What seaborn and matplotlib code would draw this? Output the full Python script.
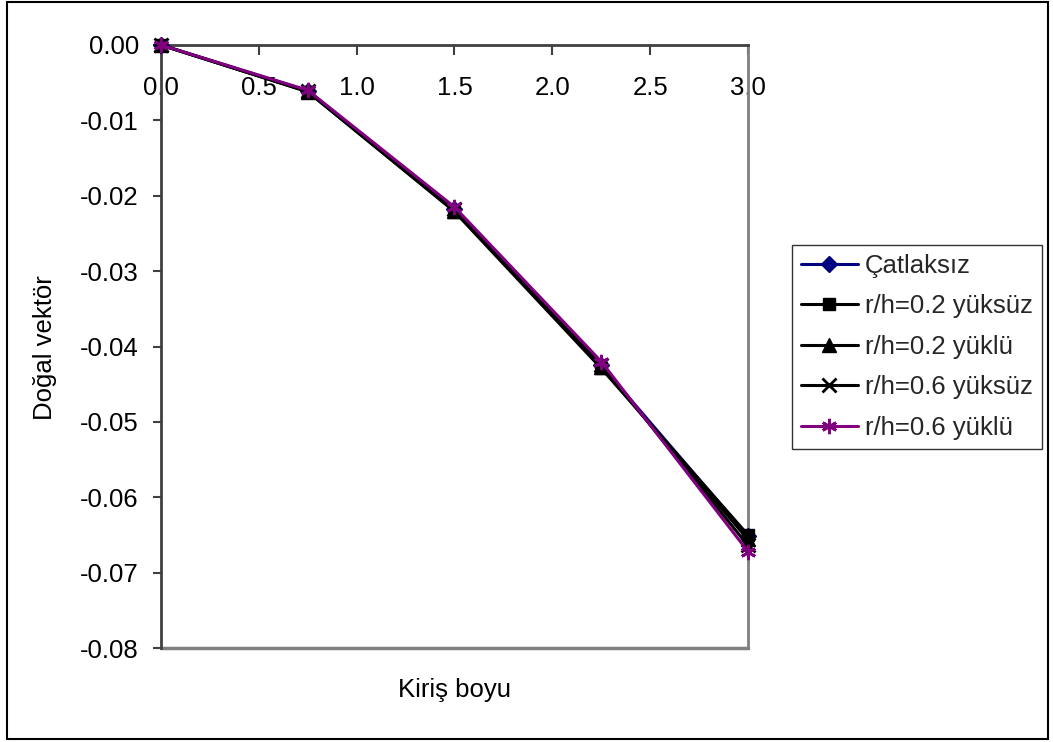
import matplotlib
matplotlib.use("Agg")
import matplotlib.pyplot as plt
from matplotlib.patches import Rectangle
from matplotlib.ticker import FuncFormatter, FixedLocator
import seaborn as sns
import pandas as pd

# ---- data ----
kiris_boyu = [0.0, 0.75, 1.5, 2.25, 3.0]
catlaksiz = [0.0, -0.0061, -0.0218, -0.0425, -0.0652]
rh02_yuksuz = [0.0, -0.0062, -0.0221, -0.0429, -0.0650]
rh02_yuklu = [0.0, -0.0062, -0.0220, -0.0427, -0.0656]
rh06_yuksuz = [0.0, -0.0061, -0.0218, -0.0424, -0.0664]
rh06_yuklu = [0.0, -0.0060, -0.0215, -0.0420, -0.0672]
series_names = ["Çatlaksız", "r/h=0.2 yüksüz", "r/h=0.2 yüklü", "r/h=0.6 yüksüz", "r/h=0.6 yüklü"]
x_ticks = [0.0, 0.5, 1.0, 1.5, 2.0, 2.5, 3.0]
y_ticks = [0.0, -0.01, -0.02, -0.03, -0.04, -0.05, -0.06, -0.07, -0.08]

series_values = [catlaksiz, rh02_yuksuz, rh02_yuklu, rh06_yuksuz, rh06_yuklu]
colors = ["#000080", "#000000", "#000000", "#000000", "#800080"]
markers = ["D", "s", "^", "x", (6, 2, 0)]
msizes = [8.5, 9, 9.5, 10, 11]

FS = 18.5

sns.set_theme(style="white")
plt.rcParams["font.family"] = ["Liberation Sans", "DejaVu Sans"]
plt.rcParams["axes.unicode_minus"] = False

fig = plt.figure(figsize=(10.53, 7.42), dpi=100)
fig.patch.set_facecolor("white")
ax = fig.add_axes([161 / 1053, 1 - 648 / 742, 587 / 1053, 603 / 742])

handles = []
for name, vals, c, m, ms in zip(series_names, series_values, colors, markers, msizes):
    df = pd.DataFrame({"x": kiris_boyu, "y": vals})
    sns.lineplot(data=df, x="x", y="y", ax=ax, color=c, marker=m, markersize=ms,
                 linewidth=2.2, markeredgecolor=c, markerfacecolor=c,
                 markeredgewidth=2.0 if m in ("x", (6, 2, 0)) else 1.0,
                 legend=False, clip_on=False, zorder=3)
    handles.append(ax.lines[-1])

ax.set_xlim(0, 3.0)
ax.set_ylim(-0.08, 0.0)
ax.set_xlabel("")
ax.set_ylabel("")

# x axis at y = 0 (top of the plot area), labels hanging below it
ax.spines["bottom"].set_position(("data", 0.0))
ax.spines["bottom"].set_color("#404040")
ax.spines["bottom"].set_linewidth(2)
ax.spines["top"].set_visible(False)
ax.spines["left"].set_color("#404040")
ax.spines["left"].set_linewidth(2)
ax.spines["right"].set_color("#808080")
ax.spines["right"].set_linewidth(2)
ax.axhline(-0.08, color="#808080", linewidth=2.5, clip_on=False, zorder=1)

ax.xaxis.set_major_locator(FixedLocator(x_ticks))
ax.xaxis.set_major_formatter(FuncFormatter(lambda v, p: f"{v:.1f}"))
ax.tick_params(axis="x", bottom=True, labelbottom=True, direction="out", length=7,
               width=1.5, color="#404040", pad=15, labelsize=FS, labelcolor="black")
ax.yaxis.set_major_locator(FixedLocator(y_ticks))
ax.yaxis.set_major_formatter(FuncFormatter(lambda v, p: f"{v:.2f}"))
ax.tick_params(axis="y", left=True, direction="out", length=6, width=1.5,
               color="#404040", pad=10, labelsize=FS, labelcolor="black")

ax.text(0.5, -0.07, "Kiriş boyu", transform=ax.transAxes, ha="center", va="center",
        fontsize=FS, color="black")
fig.text(45 / 1053, 1 - 348 / 742, "Doğal vektör", rotation=90, ha="center", va="center",
         fontsize=FS, color="black")

leg = fig.legend(handles, series_names, loc="upper left",
                 bbox_to_anchor=(792 / 1053, 1 - 245 / 742), frameon=True, fancybox=False,
                 edgecolor="black", fontsize=FS, handlelength=2.2, handletextpad=0.3,
                 labelspacing=0.64, borderpad=0.35, borderaxespad=0)
leg.get_frame().set_linewidth(1.0)

fig.patches.append(Rectangle((7 / 1053, 1 - 739 / 742), 1041 / 1053, 737 / 742,
                             transform=fig.transFigure, fill=False, edgecolor="black",
                             linewidth=1.5))

fig.savefig("out.png", dpi=100, facecolor="white")
